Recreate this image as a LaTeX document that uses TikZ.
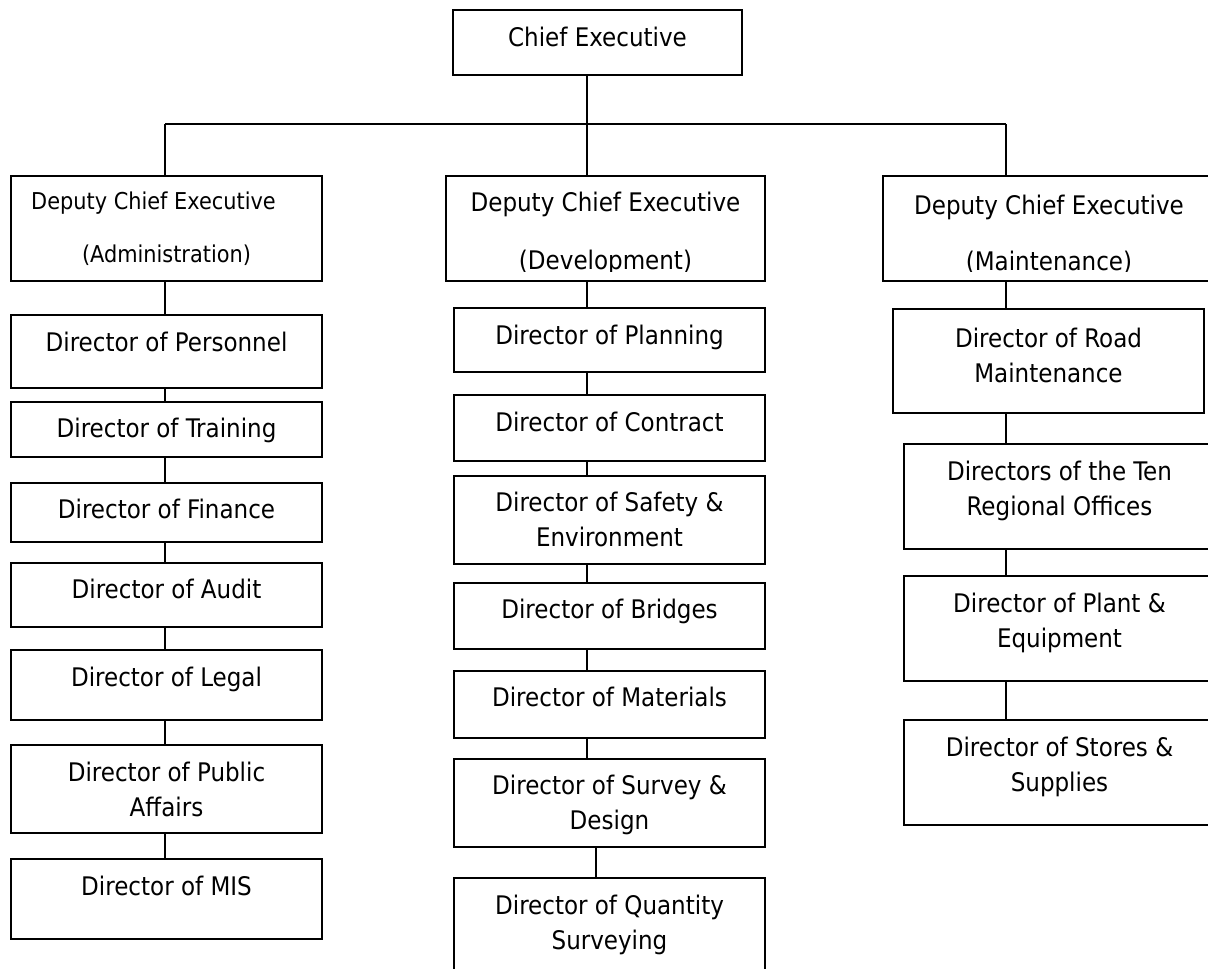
\documentclass[tikz,border=0pt]{standalone}
\usepackage{fontspec}
\setmainfont{DejaVu Sans Condensed}
\usetikzlibrary{positioning,fit}

\tikzset{
  box/.style={draw, line width=1pt, inner sep=0pt},
  lbl/.style={inner sep=0pt, align=center, font=\fontsize{12.8}{17.5}\selectfont},
  link/.style={line width=1pt}
}

\begin{document}
\begin{tikzpicture}[x=0.5pt, y=-0.5pt]
\def\xleft{165};
\def\xmid{587};
\def\xright{1006};
\def\ybus{124};

\useasboundingbox (0,0) rectangle (1208,968);
\clip (0,0) rectangle (1208,968);

\coordinate (busL) at (\xleft, \ybus);
\coordinate (busM) at (\xmid, \ybus);
\coordinate (busR) at (\xright, \ybus);
\coordinate (sq) at (596, 0);

% top
\node [box, fit={(453,10) (742,75)}] (ce) {};
\node [lbl, below=9pt of ce.north] (ce-t) {Chief Executive};

% administration
\node [box, fit={(11,176) (322,281)}] (adm) {};
\node [lbl, font=\fontsize{11.6}{17.5}\selectfont, below=8.3pt of adm.north] (adm-t) {Deputy Chief Executive\hspace*{13pt}\\[9pt](Administration)};
\node [box, fit={(11,315) (322,388)}] (pers) {};
\node [lbl, below=8.8pt of pers.north] (pers-t) {Director of Personnel};
\node [box, fit={(11,402) (322,457)}] (trn) {};
\node [lbl, below=8.5pt of trn.north] (trn-t) {Director of Training};
\node [box, fit={(11,483) (322,542)}] (fin) {};
\node [lbl, below=8.5pt of fin.north] (fin-t) {Director of Finance};
\node [box, fit={(11,563) (322,627)}] (aud) {};
\node [lbl, below=8.5pt of aud.north] (aud-t) {Director of Audit};
\node [box, fit={(11,650) (322,720)}] (leg) {};
\node [lbl, below=8.8pt of leg.north] (leg-t) {Director of Legal};
\node [box, fit={(11,745) (322,833)}] (pub) {};
\node [lbl, below=8.8pt of pub.north] (pub-t) {Director of Public\\Affairs};
\node [box, fit={(11,859) (322,939)}] (mis) {};
\node [lbl, below=8.8pt of mis.north] (mis-t) {Director of MIS};

% development
\node [box, fit={(446,176) (765,281)}] (dev) {};
\begin{scope}
\clip (446,176) rectangle (765,271);
\node [lbl, below=8.1pt of dev.north] (dev-t) {Deputy Chief Executive\\[11.5pt](Development)};
\end{scope}
\node [box, fit={(454,308) (765,372)}] (plan) {};
\node [lbl, below=9pt of plan.north] (plan-t) {Director of Planning};
\node [box, fit={(454,395) (765,461)}] (con) {};
\node [lbl, below=8.8pt of con.north] (con-t) {Director of Contract};
\node [box, fit={(454,476) (765,564)}] (saf) {};
\node [lbl, below=8.2pt of saf.north] (saf-t) {Director of Safety \&\\Environment};
\node [box, fit={(454,583) (765,649)}] (brd) {};
\node [lbl, below=8.2pt of brd.north] (brd-t) {Director of Bridges};
\node [box, fit={(454,671) (765,738)}] (mat) {};
\node [lbl, below=8.2pt of mat.north] (mat-t) {Director of Materials};
\node [box, fit={(454,759) (765,847)}] (srv) {};
\node [lbl, below=8.5pt of srv.north] (srv-t) {Director of Survey \&\\Design};
\node [box, fit={(454,878) (765,990)}] (qs) {};
\node [lbl, below=9pt of qs.north] (qs-t) {Director of Quantity\\Surveying};

% maintenance
\node [box, fit={(883,176) (1215,281)}] (mnt) {};
\begin{scope}
\clip (883,176) rectangle (1215,271);
\node [lbl, below=10pt of mnt.north] (mnt-t) {Deputy Chief Executive\\[10.5pt](Maintenance)};
\end{scope}
\node [box, fit={(893,309) (1204,413)}] (road) {};
\node [lbl, below=10pt of road.north] (road-t) {Director of Road\\Maintenance};
\node [box, fit={(904,444) (1215,549)}] (reg) {};
\node [lbl, below=8.8pt of reg.north] (reg-t) {Directors of the Ten\\Regional Offices};
\node [box, fit={(904,576) (1215,681)}] (plt) {};
\node [lbl, below=9pt of plt.north] (plt-t) {Director of Plant \&\\Equipment};
\node [box, fit={(904,720) (1215,825)}] (sto) {};
\node [lbl, below=8.8pt of sto.north] (sto-t) {Director of Stores \&\\Supplies};

% connectors
\draw [link] (ce.south -| busM) -- (busM);
\draw [link] (busL) -- (busR);
\draw [link] (busL) -- (adm.north -| busL);
\draw [link] (busM) -- (dev.north -| busM);
\draw [link] (busR) -- (mnt.north -| busR);

\draw [link] (adm.south -| busL) -- (pers.north -| busL)
  (pers.south -| busL) -- (trn.north -| busL)
  (trn.south -| busL) -- (fin.north -| busL)
  (fin.south -| busL) -- (aud.north -| busL)
  (aud.south -| busL) -- (leg.north -| busL)
  (leg.south -| busL) -- (pub.north -| busL)
  (pub.south -| busL) -- (mis.north -| busL);

\draw [link] (dev.south -| busM) -- (plan.north -| busM)
  (plan.south -| busM) -- (con.north -| busM)
  (con.south -| busM) -- (saf.north -| busM)
  (saf.south -| busM) -- (brd.north -| busM)
  (brd.south -| busM) -- (mat.north -| busM)
  (mat.south -| busM) -- (srv.north -| busM)
  (srv.south -| sq) -- (qs.north -| sq);

\draw [link] (mnt.south -| busR) -- (road.north -| busR)
  (road.south -| busR) -- (reg.north -| busR)
  (reg.south -| busR) -- (plt.north -| busR)
  (plt.south -| busR) -- (sto.north -| busR);

\end{tikzpicture}
\end{document}
